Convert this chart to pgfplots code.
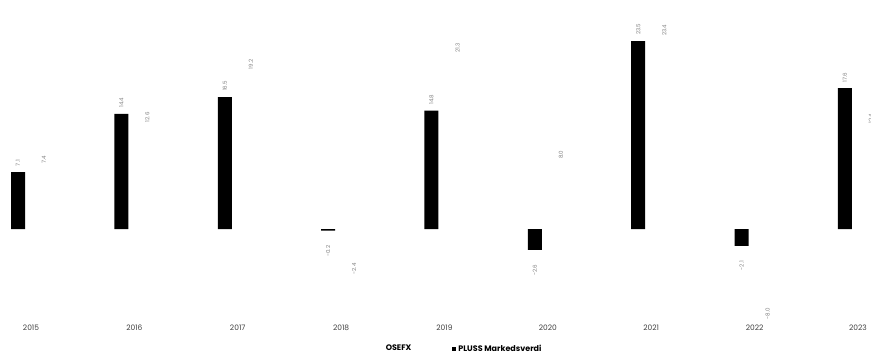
\documentclass[border=0pt]{standalone}
\usepackage{fontspec}
\setmainfont{Poppins}
\usepackage{graphicx}
\usepackage{pgfplots}
\pgfplotsset{compat=1.18}
\begin{document}
\begin{tikzpicture}
\begin{axis}[
  at={(0pt,37pt)}, anchor=south west,
  width=871pt, height=304pt, scale only axis,
  xmin=-0.3, xmax=8.126,
  ymin=-11, ymax=27,
  clip=false,
  axis line style={draw=none},
  major tick length=0pt,
  ytick=\empty,
  xtick={0,...,8},
  xticklabels={2015,2016,2017,2018,2019,2020,2021,2022,2023},
  x tick label style={font=\fontsize{7.5}{9}\selectfont, text=black!75, yshift=-4pt},
  legend style={at={(0.530,-0.104)}, anchor=center, draw=none, fill=none,
    font=\fontsize{8}{9}\selectfont\bfseries, legend columns=2,
    /tikz/every even column/.append style={column sep=39pt}},
  posl/.style={nodes near coords={\rotatebox{90}{\pgfmathprintnumber[fixed,fixed zerofill,precision=1,assume math mode=true]{\pgfplotspointmeta}}},
    nodes near coords style={font=\fontsize{5.5}{6}\selectfont, text=black!50, anchor=south, inner ysep=6pt, inner xsep=0.5pt, xshift=#1}},
  negl/.style={nodes near coords={\rotatebox{90}{\pgfmathprintnumber[fixed,fixed zerofill,precision=1,assume math mode=true]{\pgfplotspointmeta}}},
    nodes near coords style={font=\fontsize{5.5}{6}\selectfont, text=black!50, anchor=north, inner ysep=15pt, inner xsep=0.5pt, xshift=#1}},
]
% OSEFX (white, invisible bars)
\addplot[ybar, bar width=14pt, bar shift=13pt, fill=white, draw=none, posl=13pt,
  legend image code/.code={\fill[white] (0pt,-2pt) rectangle (4pt,2pt);}]
  coordinates {(0,7.4) (1,12.6) (2,19.2) (4,21.3) (5,8.0) (6,23.4) (8,12.4)};
\addlegendentry{OSEFX}
% PLUSS Markedsverdi (black)
\addplot[ybar, bar width=14pt, bar shift=-13pt, fill=black, draw=none, posl=-13pt,
  legend image code/.code={\fill[black] (0pt,-2pt) rectangle (4pt,2pt);}]
  coordinates {(0,7.1) (1,14.4) (2,16.5) (4,14.8) (6,23.5) (8,17.6)};
\addlegendentry{PLUSS Markedsverdi}
% negative values
\addplot[forget plot, ybar, bar width=14pt, bar shift=13pt, fill=white, draw=none, negl=13pt]
  coordinates {(3,-2.4) (7,-8.0)};
\addplot[forget plot, ybar, bar width=14pt, bar shift=-13pt, fill=black, draw=none, negl=-13pt]
  coordinates {(3,-0.2) (5,-2.6) (7,-2.1)};
\end{axis}
\pgfresetboundingbox
\useasboundingbox (0pt,0pt) rectangle (871pt,354pt);
\end{tikzpicture}
\end{document}
